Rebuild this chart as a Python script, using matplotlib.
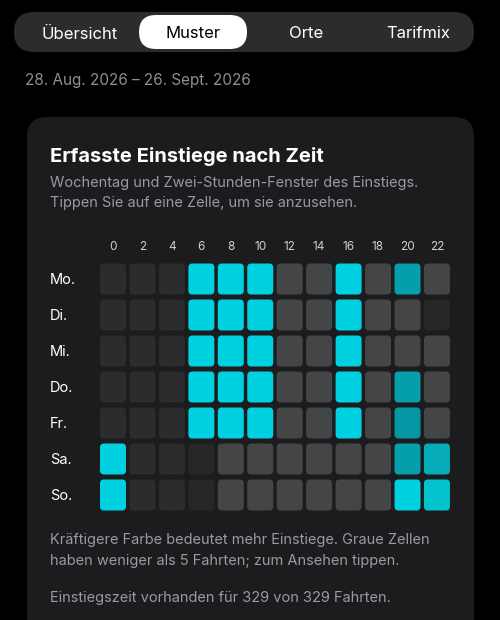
import matplotlib
matplotlib.use("Agg")
import matplotlib.pyplot as plt
from matplotlib.patches import FancyBboxPatch

tabs = ["Übersicht", "Muster", "Orte", "Tarifmix"]
selected_tab = "Muster"
date_range = "28. Aug. 2026 – 26. Sept. 2026"
title = "Erfasste Einstiege nach Zeit"
subtitle = ["Wochentag und Zwei-Stunden-Fenster des Einstiegs.",
            "Tippen Sie auf eine Zelle, um sie anzusehen."]
hours = [0, 2, 4, 6, 8, 10, 12, 14, 16, 18, 20, 22]
days = ["Mo.", "Di.", "Mi.", "Do.", "Fr.", "Sa.", "So."]
# level codes: -1 none (darkest), 0 none, 1-4 few (grey), 5+ coloured by intensity
counts = [
    [0, 0, 0, 12, 12, 12, 2, 2, 12, 2, 7, 2],
    [0, 0, 0, 12, 12, 12, 2, 2, 12, 2, 2, -1],
    [0, 0, 0, 12, 12, 12, 2, 2, 12, 2, 2, 2],
    [0, 0, 0, 12, 12, 12, 2, 2, 12, 2, 7, 2],
    [0, 0, 0, 12, 12, 12, 2, 2, 12, 2, 6, 2],
    [12, 0, 0, -1, 2, 2, 2, 2, 2, 2, 7, 8],
    [12, 0, 0, -1, 2, 2, 2, 2, 2, 2, 12, 10],
]
footer = ["Kräftigere Farbe bedeutet mehr Einstiege. Graue Zellen",
          "haben weniger als 5 Fahrten; zum Ansehen tippen."]
footer2 = "Einstiegszeit vorhanden für 329 von 329 Fahrten."

def cell_color(v):
    if v == -1:
        return "#252626"
    if v == 0:
        return "#2b2c2d"
    if v < 5:
        return "#444547"
    shades = {6: "#0497a3", 7: "#049fab", 8: "#05abb7", 10: "#03c3cf", 12: "#00d1e0"}
    return shades[v]

fig = plt.figure(figsize=(5, 6.2), dpi=100, facecolor="black")
ax = fig.add_axes([0, 0, 1, 1])
ax.set_xlim(0, 500); ax.set_ylim(620, 0); ax.axis("off")
ax.set_facecolor("black")
font = "Inter"

# segmented control
ax.add_patch(FancyBboxPatch((14, 12), 460, 40, boxstyle="round,pad=0,rounding_size=20",
                            fc="#2c2c2e", ec="none"))
tab_x = [80, 193, 306, 418]
for t, x in zip(tabs, tab_x):
    if t == selected_tab:
        ax.add_patch(FancyBboxPatch((139, 15), 108, 34, boxstyle="round,pad=0,rounding_size=17",
                                    fc="white", ec="none"))
    ax.text(x, 34, t, ha="center", va="center", fontsize=12, family=font,
            color="black" if t == selected_tab else "white")

ax.text(25, 81, date_range, ha="left", va="center", fontsize=11, family=font, color="#8e8e93")

# card
ax.add_patch(FancyBboxPatch((27, 117), 447, 540, boxstyle="round,pad=0,rounding_size=20",
                            fc="#1c1c1e", ec="none"))
ax.text(50, 156, title, ha="left", va="center", fontsize=14.5, family=font,
        color="white", fontweight="bold")
for i, s in enumerate(subtitle):
    ax.text(50, 183 + i * 20, s, ha="left", va="center", fontsize=10.5, family=font, color="#9a9aa0")

x0, dx, cw = 113, 29.45, 26
y0, dy, ch = 279, 36, 31
for j, h in enumerate(hours):
    ax.text(x0 + j * dx, 247, str(h), ha="center", va="center", fontsize=8.5, family=font, color="#d0d0d4")
for i, d in enumerate(days):
    ax.text(50, y0 + 1 + i * dy, d, ha="left", va="center", fontsize=10.5, family=font, color="white")
    for j, v in enumerate(counts[i]):
        ax.add_patch(FancyBboxPatch((x0 + j * dx - cw / 2, y0 + i * dy - ch / 2), cw, ch,
                                    boxstyle="round,pad=0,rounding_size=4",
                                    fc=cell_color(v), ec="none"))

for i, s in enumerate(footer):
    ax.text(50, 540 + i * 21, s, ha="left", va="center", fontsize=10.5, family=font, color="#9a9aa0")
ax.text(50, 598, footer2, ha="left", va="center", fontsize=10.5, family=font, color="#9a9aa0")

fig.savefig("out.png", dpi=100, facecolor="black")
